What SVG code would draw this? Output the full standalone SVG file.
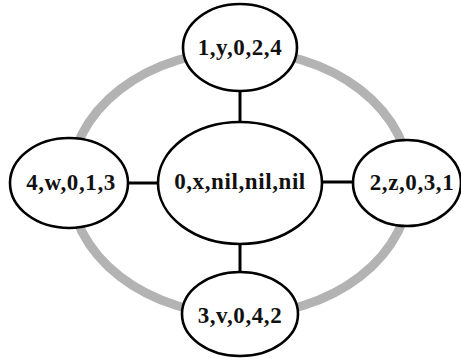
<svg xmlns="http://www.w3.org/2000/svg" width="461" height="362" viewBox="0 0 461 362">
<style>
.node ellipse{fill:#fff;stroke:#000;stroke-width:2.6}
.node text{font-family:"Liberation Serif","Times New Roman",serif;font-weight:bold;font-size:23px;letter-spacing:0.6px;fill:#111;text-anchor:middle;dominant-baseline:central}
.link{stroke:#000;stroke-width:3}
</style>
<rect width="461" height="362" fill="#fff"/>
<g id="ring">
<ellipse cx="240" cy="183" rx="170" ry="132" fill="none" stroke="#b3b3b3" stroke-width="9"/>
</g>
<g id="connectors">
<line class="link" x1="240" y1="90" x2="240" y2="123"/>
<line class="link" x1="240" y1="243" x2="240" y2="273"/>
<line class="link" x1="127" y1="183" x2="159" y2="183"/>
<line class="link" x1="321" y1="182" x2="354" y2="182"/>
</g>
<g id="n1" class="node"><ellipse cx="240" cy="47.5" rx="57" ry="43.5"/><text x="240" y="47">1,y,0,2,4</text></g>
<g id="n0" class="node"><ellipse cx="240" cy="183" rx="82" ry="61"/><text x="240" y="181">0,x,nil,nil,nil</text></g>
<g id="n4" class="node"><ellipse cx="69" cy="183" rx="59" ry="45"/><text x="71" y="182">4,w,0,1,3</text></g>
<g id="n2" class="node"><ellipse cx="407" cy="183" rx="54" ry="43"/><text x="412" y="182">2,z,0,3,1</text></g>
<g id="n3" class="node"><ellipse cx="240" cy="314" rx="58" ry="42"/><text x="240" y="315">3,v,0,4,2</text></g>
</svg>
